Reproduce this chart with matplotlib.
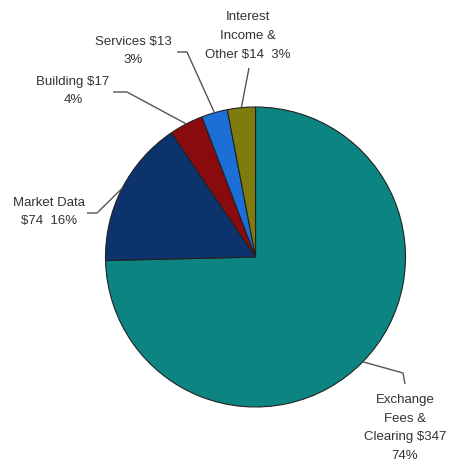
import matplotlib.pyplot as plt
import numpy as np

labels = ['Exchange\nFees &\nClearing $347\n74%',
          'Market Data\n$74  16%',
          'Building $17\n4%',
          'Services $13\n3%',
          'Interest\nIncome &\nOther $14  3%']
values = [347, 74, 17, 13, 14]
colors = ['#0b8482', '#0c336b', '#8a0b0d', '#1d6fd8', '#7f7b0c']

W, H = 450, 467
cx, cy, r = 255.5, 257.0, 150.0

# leader line bends and label centres, in pixel coords (y down)
bends = [[(403, 373), (405, 384)],
         [(97, 213), (87, 213)],
         [(127, 92), (113, 92)],
         [(187, 52), (177, 52)],
         [(249, 68)]]
text_pos = [(405, 428), (49, 212), (73, 91), (133, 51), (248, 36)]

fig = plt.figure(figsize=(W / 100, H / 100), dpi=100)
ax = fig.add_axes([0, 0, 1, 1])
ax.axis('off')

wedges, _ = ax.pie(values, colors=colors, startangle=90, counterclock=False,
                   center=(cx, H - cy), radius=r,
                   wedgeprops=dict(edgecolor='#222222', linewidth=0.8))
ax.set_xlim(0, W)
ax.set_ylim(0, H)
ax.set_aspect('equal')

for w, lab, bend, tp in zip(wedges, labels, bends, text_pos):
    mid = np.deg2rad((w.theta1 + w.theta2) / 2)
    x0 = cx + r * np.cos(mid)
    y0 = (H - cy) + r * np.sin(mid)
    xs = [x0] + [p[0] for p in bend]
    ys = [y0] + [H - p[1] for p in bend]
    ax.plot(xs, ys, color='#555555', linewidth=1.0, solid_capstyle='butt')
    ax.text(tp[0], H - tp[1], lab, ha='center', va='center',
            fontsize=9.5, color='#333333', family='Liberation Sans',
            linespacing=1.75)

fig.savefig('out.png', dpi=100)
